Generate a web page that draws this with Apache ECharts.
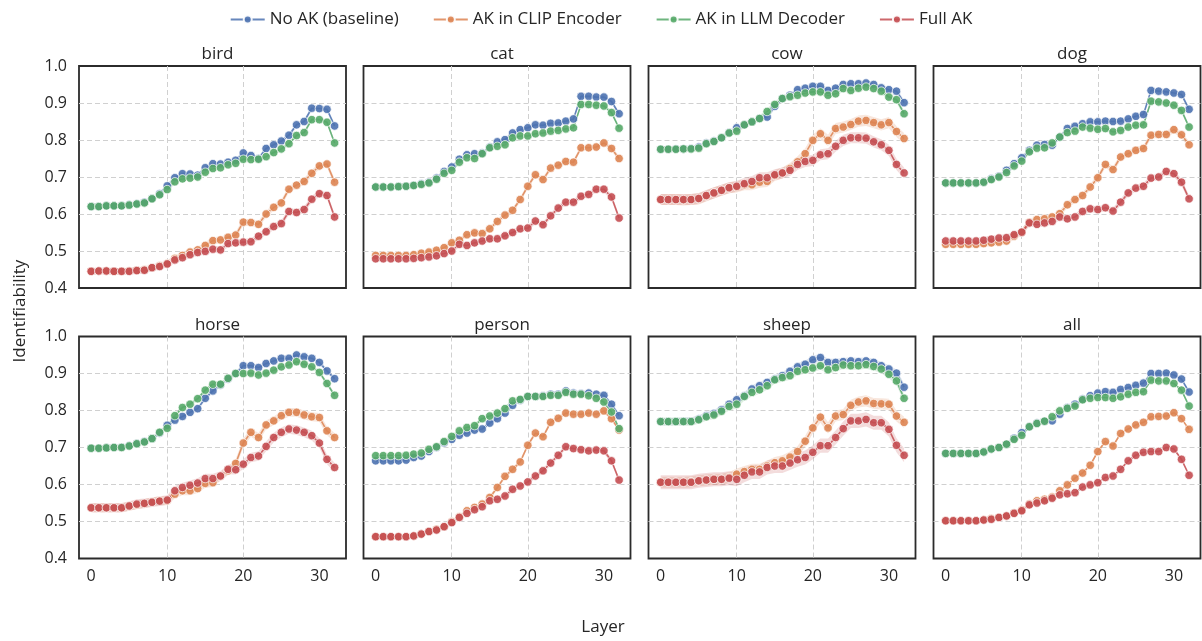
<!DOCTYPE html>
<html>
<head>
<meta charset="utf-8">
<script src="https://cdn.jsdelivr.net/npm/echarts@6/dist/echarts.min.js"></script>
<style>
  html, body { margin: 0; padding: 0; background: #fff; }
  #chart { width: 1202px; height: 641px; }
</style>
</head>
<body>
<div id="chart"></div>
<script>
// layers on the x axis
const layers = [0, 1, 2, 3, 4, 5, 6, 7, 8, 9, 10, 11, 12, 13, 14, 15, 16, 17, 18, 19, 20,
  21, 22, 23, 24, 25, 26, 27, 28, 29, 30, 31, 32];
const xTicks = [0, 10, 20, 30];
const seriesNames = ["No AK (baseline)", "AK in CLIP Encoder", "AK in LLM Decoder", "Full AK"];
const panelNames = ["bird", "cat", "cow", "dog", "horse", "person", "sheep", "all"];

// bird
const birdBase = [0.620,0.620,0.622,0.622,0.622,0.625,0.628,0.632,0.642,0.655,0.676,0.698,0.709,0.708,0.705,0.725,0.736,0.735,0.740,0.745,0.765,0.758,0.750,0.777,0.787,0.797,0.813,0.841,0.850,0.886,0.885,0.883,0.838];
const birdClip = [0.445,0.446,0.446,0.445,0.445,0.446,0.448,0.449,0.455,0.460,0.466,0.480,0.488,0.497,0.503,0.515,0.528,0.530,0.537,0.543,0.578,0.577,0.572,0.600,0.618,0.630,0.667,0.678,0.688,0.710,0.730,0.735,0.686];
const birdLlm = [0.620,0.620,0.622,0.622,0.622,0.624,0.627,0.630,0.641,0.652,0.666,0.687,0.695,0.697,0.700,0.713,0.723,0.725,0.733,0.737,0.748,0.747,0.748,0.755,0.766,0.776,0.790,0.812,0.820,0.855,0.855,0.848,0.792];
const birdFull = [0.445,0.446,0.446,0.445,0.445,0.445,0.447,0.448,0.455,0.458,0.465,0.476,0.482,0.490,0.496,0.499,0.505,0.503,0.520,0.522,0.524,0.525,0.540,0.552,0.566,0.574,0.607,0.604,0.612,0.640,0.655,0.650,0.592];
// cat
const catBase = [0.673,0.673,0.673,0.674,0.675,0.678,0.682,0.686,0.697,0.715,0.727,0.748,0.760,0.763,0.765,0.781,0.795,0.801,0.819,0.828,0.833,0.841,0.840,0.845,0.846,0.851,0.857,0.918,0.918,0.916,0.916,0.904,0.871];
const catClip = [0.488,0.488,0.488,0.488,0.488,0.490,0.494,0.497,0.502,0.509,0.522,0.529,0.544,0.549,0.547,0.560,0.580,0.597,0.610,0.639,0.675,0.706,0.693,0.724,0.732,0.742,0.740,0.779,0.779,0.781,0.792,0.777,0.750];
const catLlm = [0.673,0.673,0.673,0.674,0.675,0.677,0.680,0.684,0.694,0.710,0.718,0.740,0.752,0.750,0.763,0.779,0.783,0.787,0.806,0.811,0.811,0.817,0.819,0.824,0.826,0.830,0.833,0.896,0.896,0.894,0.892,0.874,0.832];
const catFull = [0.479,0.479,0.479,0.479,0.479,0.480,0.482,0.484,0.487,0.493,0.500,0.518,0.515,0.522,0.527,0.533,0.533,0.541,0.550,0.560,0.562,0.581,0.571,0.595,0.616,0.632,0.632,0.648,0.653,0.667,0.667,0.646,0.589];
// cow
const cowBase = [0.775,0.775,0.776,0.776,0.777,0.781,0.792,0.797,0.806,0.820,0.833,0.841,0.849,0.858,0.862,0.891,0.912,0.921,0.936,0.940,0.945,0.945,0.934,0.940,0.950,0.952,0.952,0.954,0.950,0.941,0.936,0.932,0.901];
const cowClip = [0.639,0.639,0.639,0.638,0.639,0.641,0.649,0.657,0.664,0.671,0.673,0.679,0.679,0.686,0.688,0.704,0.711,0.723,0.741,0.763,0.799,0.817,0.799,0.831,0.835,0.842,0.851,0.853,0.847,0.841,0.847,0.823,0.804];
const cowLlm = [0.775,0.775,0.775,0.776,0.776,0.778,0.790,0.796,0.806,0.819,0.824,0.841,0.849,0.858,0.877,0.896,0.912,0.917,0.921,0.927,0.930,0.930,0.921,0.925,0.939,0.934,0.940,0.943,0.939,0.932,0.916,0.909,0.871];
const cowFull = [0.639,0.639,0.639,0.639,0.639,0.642,0.650,0.657,0.664,0.671,0.675,0.682,0.688,0.698,0.698,0.706,0.711,0.718,0.734,0.742,0.745,0.760,0.763,0.783,0.799,0.806,0.806,0.805,0.795,0.787,0.772,0.734,0.711];
// dog
const dogBase = [0.684,0.684,0.684,0.684,0.684,0.686,0.695,0.702,0.718,0.736,0.752,0.772,0.786,0.788,0.786,0.808,0.831,0.837,0.844,0.849,0.849,0.851,0.850,0.851,0.857,0.864,0.869,0.934,0.932,0.930,0.927,0.923,0.883];
const dogClip = [0.518,0.518,0.518,0.518,0.518,0.520,0.522,0.524,0.527,0.540,0.551,0.578,0.585,0.587,0.592,0.601,0.625,0.639,0.650,0.673,0.698,0.734,0.720,0.754,0.763,0.772,0.777,0.813,0.815,0.815,0.828,0.814,0.787];
const dogLlm = [0.684,0.684,0.684,0.684,0.684,0.686,0.693,0.700,0.712,0.730,0.743,0.768,0.778,0.779,0.792,0.808,0.820,0.824,0.835,0.832,0.829,0.831,0.822,0.826,0.835,0.840,0.841,0.905,0.903,0.900,0.894,0.880,0.835];
const dogFull = [0.527,0.527,0.527,0.527,0.527,0.529,0.532,0.535,0.536,0.544,0.551,0.576,0.572,0.576,0.580,0.592,0.587,0.592,0.607,0.614,0.612,0.617,0.608,0.632,0.657,0.670,0.675,0.697,0.700,0.715,0.709,0.686,0.641];
// horse
const horseBase = [0.698,0.698,0.699,0.700,0.701,0.705,0.711,0.716,0.724,0.739,0.760,0.774,0.784,0.795,0.805,0.833,0.853,0.869,0.885,0.900,0.921,0.921,0.916,0.927,0.934,0.941,0.941,0.950,0.945,0.941,0.930,0.907,0.886];
const horseClip = [0.537,0.537,0.537,0.537,0.537,0.541,0.545,0.549,0.553,0.556,0.556,0.574,0.583,0.583,0.589,0.603,0.605,0.622,0.637,0.657,0.712,0.741,0.727,0.761,0.772,0.786,0.795,0.795,0.788,0.783,0.781,0.745,0.727];
const horseLlm = [0.698,0.698,0.699,0.700,0.700,0.704,0.710,0.715,0.724,0.741,0.752,0.786,0.808,0.817,0.832,0.855,0.871,0.871,0.887,0.900,0.900,0.901,0.896,0.901,0.909,0.918,0.923,0.932,0.925,0.918,0.903,0.873,0.841];
const horseFull = [0.537,0.537,0.537,0.537,0.537,0.542,0.547,0.549,0.552,0.555,0.558,0.583,0.592,0.598,0.604,0.616,0.616,0.623,0.641,0.640,0.655,0.673,0.677,0.703,0.727,0.741,0.750,0.747,0.741,0.732,0.712,0.668,0.646];
// person
const personBase = [0.664,0.664,0.664,0.664,0.666,0.673,0.677,0.689,0.700,0.713,0.722,0.733,0.739,0.747,0.750,0.766,0.778,0.793,0.814,0.828,0.838,0.838,0.840,0.844,0.844,0.853,0.847,0.846,0.847,0.844,0.841,0.817,0.786];
const personClip = [0.459,0.459,0.459,0.459,0.459,0.461,0.466,0.473,0.479,0.486,0.499,0.513,0.529,0.538,0.547,0.565,0.592,0.622,0.641,0.661,0.706,0.739,0.729,0.768,0.779,0.793,0.790,0.790,0.793,0.790,0.799,0.778,0.747];
const personLlm = [0.678,0.678,0.678,0.678,0.679,0.682,0.685,0.695,0.702,0.716,0.730,0.745,0.754,0.759,0.778,0.785,0.793,0.805,0.826,0.830,0.838,0.838,0.838,0.841,0.841,0.849,0.844,0.844,0.840,0.833,0.823,0.796,0.751];
const personFull = [0.459,0.459,0.459,0.459,0.459,0.461,0.466,0.473,0.477,0.486,0.497,0.511,0.522,0.532,0.540,0.556,0.560,0.569,0.587,0.596,0.607,0.623,0.637,0.658,0.679,0.702,0.697,0.694,0.691,0.693,0.691,0.664,0.612];
// sheep
const sheepBase = [0.770,0.770,0.770,0.771,0.771,0.777,0.786,0.792,0.802,0.817,0.829,0.840,0.858,0.867,0.876,0.885,0.894,0.906,0.918,0.925,0.937,0.943,0.930,0.930,0.932,0.934,0.932,0.934,0.930,0.921,0.912,0.901,0.863];
const sheepClip = [0.606,0.606,0.606,0.606,0.607,0.610,0.612,0.614,0.614,0.619,0.628,0.635,0.641,0.641,0.650,0.659,0.664,0.674,0.689,0.717,0.753,0.782,0.753,0.785,0.789,0.814,0.823,0.826,0.819,0.818,0.817,0.785,0.768];
const sheepLlm = [0.770,0.770,0.770,0.770,0.770,0.775,0.783,0.788,0.798,0.811,0.817,0.838,0.849,0.856,0.867,0.883,0.889,0.894,0.906,0.910,0.915,0.921,0.910,0.916,0.923,0.921,0.921,0.924,0.919,0.912,0.898,0.880,0.833];
const sheepFull = [0.606,0.606,0.606,0.606,0.606,0.610,0.612,0.614,0.614,0.617,0.614,0.625,0.634,0.634,0.646,0.650,0.650,0.658,0.667,0.673,0.687,0.705,0.705,0.727,0.751,0.772,0.772,0.776,0.767,0.767,0.749,0.706,0.679];
// all
const allBase = [0.684,0.684,0.684,0.684,0.684,0.688,0.696,0.700,0.709,0.725,0.740,0.756,0.766,0.771,0.772,0.790,0.808,0.817,0.831,0.840,0.847,0.851,0.849,0.857,0.862,0.868,0.874,0.900,0.900,0.901,0.896,0.885,0.850];
const allClip = [0.502,0.502,0.502,0.502,0.502,0.505,0.508,0.511,0.515,0.523,0.531,0.547,0.556,0.560,0.566,0.583,0.599,0.617,0.631,0.652,0.689,0.716,0.704,0.738,0.750,0.761,0.768,0.783,0.784,0.785,0.794,0.778,0.749];
const allLlm = [0.684,0.684,0.684,0.684,0.684,0.688,0.696,0.700,0.709,0.722,0.733,0.756,0.765,0.771,0.783,0.799,0.806,0.812,0.829,0.833,0.835,0.835,0.833,0.837,0.844,0.849,0.851,0.882,0.880,0.880,0.873,0.855,0.812];
const allFull = [0.502,0.502,0.502,0.502,0.502,0.504,0.506,0.511,0.515,0.522,0.529,0.545,0.550,0.556,0.563,0.572,0.575,0.578,0.593,0.599,0.605,0.619,0.623,0.641,0.664,0.679,0.687,0.689,0.689,0.700,0.696,0.668,0.625];

// half width of the shaded band, per series (base, clip, llm, full)
const birdBand = [0.006, 0.009, 0.006, 0.009];
const catBand = [0.005, 0.007, 0.005, 0.008];
const cowBand = [0.007, 0.015, 0.008, 0.015];
const dogBand = [0.006, 0.009, 0.006, 0.009];
const horseBand = [0.006, 0.012, 0.006, 0.013];
const personBand = [0.006, 0.006, 0.006, 0.007];
const sheepBand = [0.010, 0.015, 0.011, 0.019];
const allBand = [0.004, 0.004, 0.004, 0.004];

const panels = [
  [birdBase, birdClip, birdLlm, birdFull],
  [catBase, catClip, catLlm, catFull],
  [cowBase, cowClip, cowLlm, cowFull],
  [dogBase, dogClip, dogLlm, dogFull],
  [horseBase, horseClip, horseLlm, horseFull],
  [personBase, personClip, personLlm, personFull],
  [sheepBase, sheepClip, sheepLlm, sheepFull],
  [allBase, allClip, allLlm, allFull],
];
const bands = [birdBand, catBand, cowBand, dogBand, horseBand, personBand, sheepBand, allBand];

const colors = ["#4C72B0", "#DD8452", "#55A868", "#C44E52"];
const FONT = "Open Sans";
const TXT = "#262626";

const colLeft = [79, 363.5, 648.5, 933.5];
const rowTop = [66, 336.5];
const W = 267, H = 222;

// shaded band: one polygon built from all rows through the axis scale
const bandRender = (rows, color) => (params, api) => {
  if (params.dataIndex !== 0) return;
  const upper = rows.map((d) => api.coord([d[0], d[2]]));
  const lower = rows.map((d) => api.coord([d[0], d[1]])).reverse();
  return {
    type: "polygon",
    shape: { points: upper.concat(lower) },
    style: { fill: color, opacity: 0.2 },
    silent: true,
  };
};

const gridLine = { show: true, showMinLine: false, showMaxLine: false,
  lineStyle: { color: "#d0d0d0", type: [5, 3], width: 1 } };

const grid = [], xAxis = [], yAxis = [], title = [], series = [];
panelNames.forEach((name, gi) => {
  const c = gi % 4, r = Math.floor(gi / 4);
  grid.push({
    left: colLeft[c], top: rowTop[r], width: W, height: H,
    show: true, borderColor: "#2b2b2b", borderWidth: 1.8, backgroundColor: "transparent",
  });
  title.push({
    text: name, left: colLeft[c] + W / 2, top: rowTop[r] - 25, textAlign: "center",
    textStyle: { fontFamily: FONT, fontSize: 17, fontWeight: "normal", color: TXT },
  });
  xAxis.push({
    type: "value", gridIndex: gi, min: -1.6, max: 33.5,
    axisLine: { show: false },
    axisTick: { show: false, customValues: xTicks },
    axisLabel: {
      show: r === 1, customValues: xTicks, margin: 10,
      fontFamily: FONT, fontSize: 16, color: TXT,
    },
    splitLine: gridLine,
  });
  yAxis.push({
    type: "value", gridIndex: gi, min: 0.4, max: 1.0, interval: 0.1,
    axisLine: { show: false },
    axisTick: { show: false },
    axisLabel: {
      show: c === 0, margin: 12, fontFamily: FONT, fontSize: 16, color: TXT,
      formatter: (v) => v.toFixed(1),
    },
    splitLine: gridLine,
  });

  panels[gi].forEach((vals, k) => {
    const w = bands[gi][k];
    const rows = layers.map((x, i) => [x, vals[i] - w, vals[i] + w]);
    series.push({
      type: "custom", xAxisIndex: gi, yAxisIndex: gi,
      data: rows, renderItem: bandRender(rows, colors[k]),
      encode: { x: 0, y: [1, 2] }, silent: true, z: 1,
    });
  });
  panels[gi].forEach((vals, k) => {
    series.push({
      name: seriesNames[k], type: "line", xAxisIndex: gi, yAxisIndex: gi,
      data: layers.map((x, i) => [x, vals[i]]),
      symbol: "circle", symbolSize: 8.5, showSymbol: true,
      lineStyle: { color: colors[k], width: 1.6, opacity: 0.85 },
      itemStyle: { color: colors[k], borderColor: "#ffffff", borderWidth: 0.8, opacity: 0.9 },
      emphasis: { disabled: true }, z: 2,
    });
  });
});

const myChart = echarts.init(document.getElementById("chart"), null, { renderer: "canvas" });
myChart.setOption({
  animation: false,
  backgroundColor: "#ffffff",
  title,
  legend: {
    data: seriesNames, top: 6, left: "center",
    itemWidth: 34, itemHeight: 10, itemGap: 34,
    textStyle: { fontFamily: FONT, fontSize: 17, color: TXT },
  },
  grid, xAxis, yAxis, series,
  graphic: [
    {
      type: "text", x: 20, y: 311, rotation: Math.PI / 2,
      style: { text: "Identifiability", font: "17px 'Open Sans'", fill: TXT, textAlign: "center", textVerticalAlign: "middle" },
    },
    {
      type: "text", x: 603, y: 627,
      style: { text: "Layer", font: "17px 'Open Sans'", fill: TXT, textAlign: "center", textVerticalAlign: "middle" },
    },
  ],
});
</script>
</body>
</html>
